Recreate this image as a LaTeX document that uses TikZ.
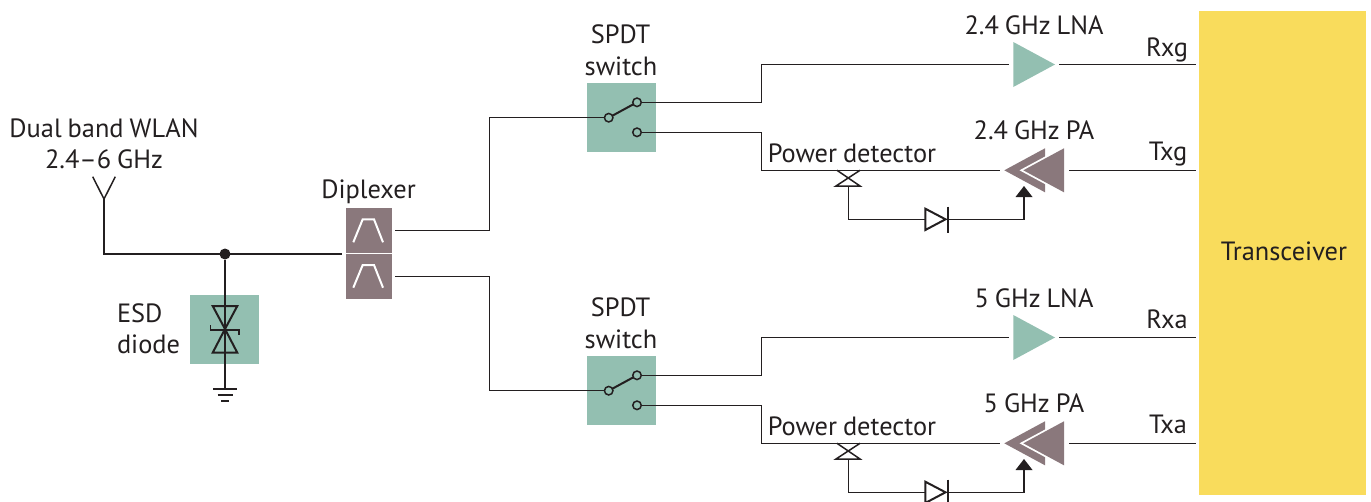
\documentclass[tikz,border=0pt]{standalone}
\usepackage{fontspec}
\setmainfont[WordSpace=0.85]{PT Sans}
\definecolor{ink}{HTML}{231F20}
\definecolor{sage}{HTML}{93BFB1}
\definecolor{taupe}{HTML}{8A787C}
\definecolor{gold}{HTML}{F9DC5C}
\tikzset{
  wire/.style={draw=ink,line width=1.5pt,line join=miter},
  sagebox/.style={fill=sage,draw=none,minimum size=69pt,inner sep=0pt,outer sep=0pt},
  lab/.style={font=\fontsize{26.4}{30}\selectfont,text=ink,inner sep=0pt,outer sep=0pt,anchor=base},
  term/.style={circle,draw=ink,line width=1.5pt,fill=sage,minimum size=8.5pt,inner sep=0pt,outer sep=0pt},
  filt/.style={draw=white,line width=2pt},
  tip/.style={fill=ink,draw=none}
}
\begin{document}
\begin{tikzpicture}[x=1pt,y=-1pt]
\useasboundingbox (0,0) rectangle (1371,501);
\clip (0,0) rectangle (1371,501);
% transceiver
\node[fill=gold,minimum width=167pt,minimum height=484pt,inner sep=0pt,anchor=north west] (trx) at (1199,11) {};
\node[lab] (trxl) at (1284,260) {Transceiver};
% antenna
\coordinate (ant) at (104,199);
\coordinate (antl) at (92.7,176.7);
\coordinate (antr) at (115.3,176.7);
\draw[wire] (antl) -- (ant) -- (antr);
\node[lab] (wlan) at (104,137) {Dual band WLAN};
\node[lab] (band) at (104,168) {2.4–6 GHz};
% junction + ESD
\node[sagebox,anchor=north west] (esd) at (190,295) {};
\node[circle,fill=ink,minimum size=11pt,inner sep=0pt] (dot) at (225,254) {};
\coordinate (gnd) at (225,389);
\coordinate (dipin) at (341.7,254);
\draw[wire] (ant) |- (dipin);
\draw[wire] (dot) -- (gnd);
\draw[wire,line width=2pt] (212.7,306) -- (237.3,306) -- (225,329) -- cycle;
\draw[wire,line width=2pt] (212.7,352.7) -- (237.3,352.7) -- (225,329) -- cycle;
\draw[wire] (210.7,325) -- (210.7,330) -- (239,330) -- (239,335);
\draw[wire,line width=2pt] (213.3,389) -- (236.7,389);
\draw[wire,line width=2pt] (217.5,395) -- (232.5,395);
\draw[wire,line width=2pt] (221,401) -- (229,401);
\node[lab,anchor=base west] (esdl) at (117,322) {ESD};
\node[lab,anchor=base west] (esdm) at (117,353) {diode};
% diplexer
\node[fill=taupe,minimum width=46pt,minimum height=91pt,inner sep=0pt,anchor=north west] (dip) at (346,208) {};
\draw[draw=white,line width=1.5pt] (dip.west) -- (dip.east);
\draw[filt] (353.3,242.3) -- (362.7,219.3) -- (374,219.3) -- (383,242.3);
\draw[filt] (353.3,287.7) -- (362.7,265) -- (374,265) -- (383,287.7);
\node[lab] (dipl) at (368.5,198) {Diplexer};
\coordinate (dipa) at (395,230.6);
\coordinate (dipb) at (395,276.3);
% two identical branches
\foreach \o/\s/\rx/\tx/\lna/\pa in {0/a/Rxg/Txg/2.4 GHz LNA/2.4 GHz PA,273/b/Rxa/Txa/5 GHz LNA/5 GHz PA}{
\begin{scope}[shift={(0,\o)}]
  \node[sagebox,anchor=north west] (sw\s) at (587,83) {};
  \node[lab] (spdt\s) at (620.5,43) {SPDT};
  \node[lab] (swl\s) at (621,75) {switch};
  % LNA
  \fill[sage] (1013.3,42) -- (1055,64.5) -- (1013.3,87) -- cycle;
  \coordinate (lnain\s) at (1009,64.5);
  \coordinate (lnaout\s) at (1059,64.5);
  \coordinate (rxe\s) at (1196,64.5);
  \draw[wire] (lnaout\s) -- (rxe\s);
  \node[lab] (lnal\s) at (1034,34) {\lna};
  \node[lab] (rxl\s) at (1167,\ifnum\o=0 56\else 55\fi) {\rx};
  % PA
  \fill[taupe] (1004.3,170.3) -- (1045,148.3) -- (1045,192.3) -- cycle;
  \fill[white] (1019.5,170.3) -- (1046,156) -- (1046,184.6) -- cycle;
  \fill[taupe] (1023.3,170.3) -- (1064,148.3) -- (1064,192.3) -- cycle;
  \coordinate (pain\s) at (1069,170.3);
  \coordinate (paout\s) at (999.5,170.3);
  \coordinate (txe\s) at (1196,170.3);
  \draw[wire] (pain\s) -- (txe\s);
  \node[lab] (pal\s) at (1034,139) {\pa};
  \node[lab] (txl\s) at (1168,160) {\tx};
  \node[lab] (pdl\s) at (852,162) {Power detector};
  % switch contacts and wires
  \node[term] (p\s) at (608.7,117.7) {};
  \node[term] (t\s) at (637,102.3) {};
  \node[term] (u\s) at (637,132.3) {};
  \draw[wire,line width=2pt] (p\s) -- (t\s);
  \draw[wire] (t\s) -- (761.7,102.3) -- (761.7,64.5) -- (lnain\s);
  \draw[wire] (u\s) -- (761.7,132.3) -- (761.7,170.3) -- (paout\s);
  % detector
  \coordinate (cr\s) at (848.3,178.3);
  \draw[wire] (837,170.3) -- (860,186) -- (836,186) -- (860,170.3);
  \coordinate (ar\s) at (1024,196);
  \draw[wire] (848.3,186) -- (848.3,219.3) -- (926,219.3);
  \draw[wire] (947.7,219.3) -- (1024,219.3) -- (ar\s);
  \fill[tip] (1024,186) -- (1032.5,197) -- (1015.5,197) -- cycle;
  \draw[wire,line width=2pt,fill=white] (925.3,208.7) -- (945.5,219.3) -- (925.3,230) -- cycle;
  \draw[wire,line width=2pt] (947.7,206.7) -- (947.7,232.7);
\end{scope}
}
\draw[wire] (dipa) -- (489.6,230.6) |- (pa);
\draw[wire] (dipb) -- (489.6,276.3) |- (pb);
\end{tikzpicture}
\end{document}
